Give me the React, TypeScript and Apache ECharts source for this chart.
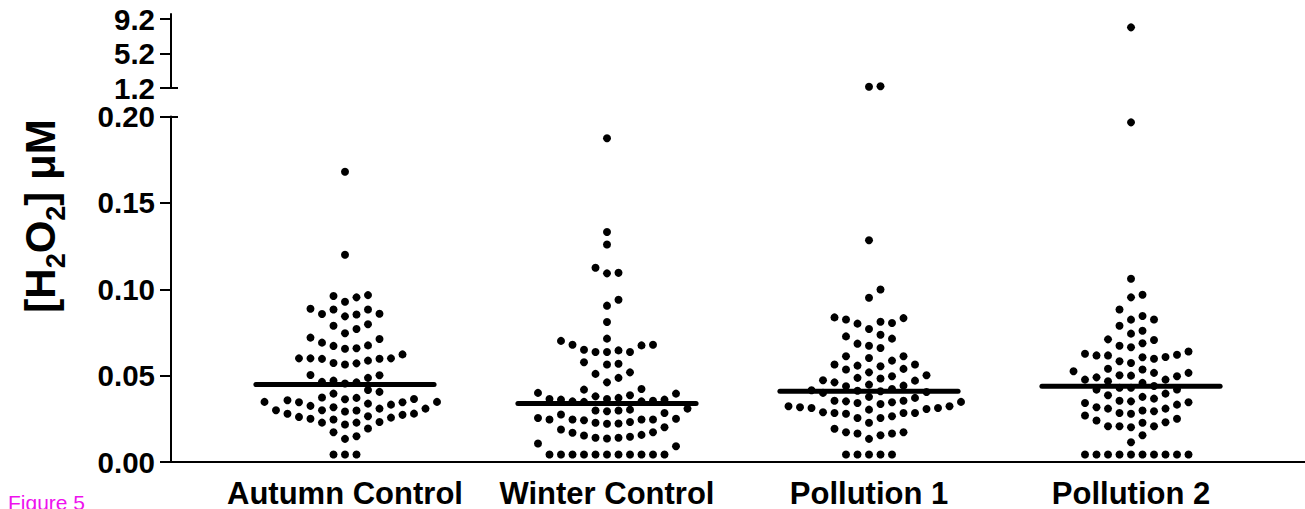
import React, { useEffect, useRef } from "react";
import * as echarts from "echarts";

// ---------------- data ----------------
const categories = ["Autumn Control", "Winter Control", "Pollution 1", "Pollution 2"];

const autumnControl = [
  0.168, 0.12,
  0.0966, 0.0953, 0.0928, 0.0961, 0.0883, 0.0883, 0.0887, 0.0854, 0.0858, 0.0843, 0.0857,
  0.0797, 0.077, 0.0789, 0.0712, 0.072, 0.0745, 0.0691, 0.0675, 0.0658, 0.0656, 0.0672,
  0.06, 0.06, 0.0597, 0.0573, 0.0564, 0.0571, 0.0587, 0.0598, 0.06, 0.0623,
  0.0502, 0.0487, 0.0504,
  0.0471, 0.0461, 0.0454, 0.0464,
  0.0406, 0.0417, 0.0396,
  0.0371, 0.0365, 0.0357, 0.0363, 0.0373,
  0.0348, 0.0348, 0.0338, 0.0325, 0.0309, 0.03, 0.03, 0.0292, 0.0298, 0.0309, 0.0317, 0.0332, 0.0346, 0.0346,
  0.0279, 0.0265, 0.0257, 0.025, 0.0228, 0.0217, 0.0228, 0.0232, 0.0246, 0.0261, 0.0273, 0.028,
  0.0194, 0.0172, 0.0149, 0.0134,
  0.0043, 0.0043, 0.0043,
];

const winterControl = [
  0.1874, 0.1331, 0.1259, 0.1095, 0.1092, 0.1124, 0.0905, 0.0939, 0.081, 0.0714,
  0.0679, 0.0675, 0.0679, 0.0701,
  0.0646, 0.0637, 0.0637, 0.0637, 0.065,
  0.0577, 0.0564, 0.0569,
  0.051, 0.0519, 0.0487, 0.0461,
  0.0423, 0.0419,
  0.04, 0.0386, 0.0365, 0.0361, 0.0355, 0.0351, 0.0348, 0.0351, 0.0361, 0.0365, 0.0371, 0.038, 0.0396,
  0.0303, 0.0298, 0.0284, 0.0275, 0.0294, 0.0298, 0.0309,
  0.025, 0.0246, 0.0246, 0.0232, 0.0227, 0.0201, 0.0221, 0.0223, 0.0242, 0.0246, 0.0246, 0.0255,
  0.0172, 0.0153, 0.014, 0.0136, 0.014, 0.0146, 0.0157, 0.0169, 0.0188,
  0.0107, 0.0091,
  0.0043, 0.0043, 0.0043, 0.0043, 0.0043, 0.0043, 0.0043, 0.0043, 0.0043, 0.0043, 0.0043,
];

const pollution1 = [
  1.4, 1.35,
  0.1284, 0.0999, 0.0951,
  0.0833, 0.0812, 0.0801, 0.0805, 0.0825, 0.0837, 0.077,
  0.0737, 0.0727, 0.0714, 0.0685, 0.066, 0.0673,
  0.0612, 0.0602, 0.0587, 0.0612,
  0.0564, 0.0558, 0.0539, 0.0519, 0.0535, 0.0554, 0.0564,
  0.0496, 0.0483, 0.0471, 0.0448, 0.0442, 0.0461, 0.0473, 0.0487, 0.0502,
  0.0423, 0.04, 0.0438, 0.041, 0.0412, 0.0405, 0.0415,
  0.0355, 0.0348, 0.0342, 0.0323, 0.0313, 0.0307, 0.0303, 0.0371, 0.0377, 0.0317, 0.0313, 0.0323, 0.0336, 0.0346, 0.0351, 0.0355,
  0.0284, 0.0284, 0.0255, 0.0288, 0.0255, 0.0265, 0.0279, 0.0284,
  0.0227,
  0.0172, 0.0165, 0.0155, 0.0165, 0.0172, 0.0192,
  0.0134,
  0.0043, 0.0043, 0.0043, 0.0043, 0.0043,
];

const pollution2 = [
  8.23, 0.1966,
  0.1061, 0.0953, 0.0968, 0.0883, 0.0825, 0.0824, 0.0845, 0.0789, 0.0743, 0.076, 0.0706, 0.071, 0.0673, 0.0664, 0.0687, 0.064,
  0.0621, 0.0617, 0.0606, 0.0583, 0.0573, 0.0598, 0.0608, 0.0617, 0.0627,
  0.0535, 0.0516, 0.0502, 0.0496, 0.0477, 0.049, 0.05, 0.0516, 0.0525, 0.054,
  0.0477, 0.0458, 0.0419, 0.0467, 0.044, 0.042, 0.043, 0.043,
  0.0386, 0.0367, 0.0351, 0.0342, 0.0346, 0.0355, 0.0377, 0.0396,
  0.0317, 0.0309, 0.0294, 0.0279, 0.0269, 0.0284, 0.0298, 0.0309, 0.0332,
  0.025, 0.0227, 0.0207, 0.0201, 0.0207, 0.0207, 0.023, 0.024,
  0.0155, 0.0114,
  0.0043, 0.0043, 0.0043, 0.0043, 0.0043, 0.0043, 0.0043, 0.0043, 0.0043, 0.0043,
];

const medians = [0.0448, 0.0338, 0.0409, 0.0438];

const lowerTicks = [0, 0.05, 0.1, 0.15, 0.2];
const upperTicks = [1.2, 5.2, 9.2];

// ---------------- layout ----------------
const W = 1305;
const H = 509;
const AXIS_X = 171;
const LOWER_TOP = 116.5;
const LOWER_BOTTOM = 462.5;
const UPPER_TOP = 14;
const UPPER_BOTTOM = 88;
const LOWER_MIN = 0;
const LOWER_MAX = 0.2;
const UPPER_MIN = 1.2;
const UPPER_MAX = 9.78;
const X_MIN = -0.664;
const X_MAX = 3.664;
const COL_PX = 11.5; // horizontal spacing of swarm columns
const GAP_PX = 12; // minimum vertical distance between dots in one column
const DOT = 8;
const MEDIAN_HALF = 0.34;
const FONT = "'Liberation Sans', Arial, Helvetica, sans-serif";

const LOWER_PX = (LOWER_BOTTOM - LOWER_TOP) / (LOWER_MAX - LOWER_MIN);
const UPPER_PX = (UPPER_BOTTOM - UPPER_TOP) / (UPPER_MAX - UPPER_MIN);
const COL_STEP = (COL_PX * (X_MAX - X_MIN)) / (W - AXIS_X);

function swarmColumns(values: number[], pxPerUnit: number): number[] {
  const order = values.map((_, i) => i).sort((a, b) => values[a] - values[b]);
  const placed = new Map<number, number[]>();
  const cols = new Array(values.length).fill(0);
  for (const i of order) {
    const y = values[i] * pxPerUnit;
    for (let k = 0; ; k++) {
      const c = k === 0 ? 0 : k % 2 === 1 ? (k + 1) / 2 : -k / 2;
      const list = placed.get(c) || [];
      if (list.every((py) => Math.abs(py - y) >= GAP_PX)) {
        list.push(y);
        placed.set(c, list);
        cols[i] = c;
        break;
      }
    }
  }
  return cols;
}

function buildPoints() {
  const groups = [autumnControl, winterControl, pollution1, pollution2];
  const lowerData: number[][] = [];
  const upperData: number[][] = [];
  groups.forEach((vals, g) => {
    const lower = vals.filter((v) => v <= LOWER_MAX);
    const upper = vals.filter((v) => v > LOWER_MAX);
    swarmColumns(lower, LOWER_PX).forEach((c, i) => lowerData.push([g + c * COL_STEP, lower[i]]));
    swarmColumns(upper, UPPER_PX).forEach((c, i) => upperData.push([g + c * COL_STEP, upper[i]]));
  });
  return { lowerData, upperData };
}

export default function App() {
  const ref = useRef<HTMLDivElement>(null);

  useEffect(() => {
    if (!ref.current) return;
    const chart = echarts.init(ref.current, null, { renderer: "svg" });
    const { lowerData, upperData } = buildPoints();

    const black = "#000";
    const axisLine = { show: true, onZero: false, lineStyle: { color: black, width: 2 } };
    const tickLabel = {
      color: black,
      fontSize: 29.5,
      fontWeight: "bold",
      fontFamily: FONT,
      margin: 16,
    };

    const option: any = {
      animation: false,
      backgroundColor: "#fff",
      grid: [
        { left: AXIS_X, right: 0, top: LOWER_TOP, height: LOWER_BOTTOM - LOWER_TOP, containLabel: false },
        { left: AXIS_X, right: 0, top: UPPER_TOP, height: UPPER_BOTTOM - UPPER_TOP, containLabel: false },
      ],
      xAxis: [
        {
          gridIndex: 0,
          type: "value",
          min: X_MIN,
          max: X_MAX,
          axisLine,
          axisTick: { show: false },
          splitLine: { show: false },
          axisLabel: {
            customValues: [0, 1, 2, 3],
            formatter: (v: number) => categories[Math.round(v)] ?? "",
            color: black,
            fontSize: 31,
            fontWeight: "bold",
            fontFamily: FONT,
            margin: 16,
          },
        },
        {
          gridIndex: 1,
          type: "value",
          min: X_MIN,
          max: X_MAX,
          show: false,
        },
      ],
      yAxis: [
        {
          gridIndex: 0,
          type: "value",
          min: LOWER_MIN,
          max: LOWER_MAX,
          interval: 0.05,
          axisLine,
          axisTick: { show: true, length: 11, lineStyle: { color: black, width: 2 }, customValues: lowerTicks },
          splitLine: { show: false },
          axisLabel: { ...tickLabel, customValues: lowerTicks, formatter: (v: number) => v.toFixed(2) },
        },
        {
          gridIndex: 0,
          type: "value",
          min: LOWER_MIN,
          max: LOWER_MAX,
          position: "left",
          axisLine: { show: false, onZero: false },
          axisTick: { show: true, inside: true, length: 7, lineStyle: { color: black, width: 2 }, customValues: [LOWER_MAX] },
          axisLabel: { show: false },
          splitLine: { show: false },
        },
        {
          gridIndex: 1,
          type: "value",
          min: UPPER_MIN,
          max: UPPER_MAX,
          axisLine,
          axisTick: { show: true, length: 11, lineStyle: { color: black, width: 2 }, customValues: upperTicks },
          splitLine: { show: false },
          axisLabel: { ...tickLabel, customValues: upperTicks, formatter: (v: number) => v.toFixed(1) },
        },
        {
          gridIndex: 1,
          type: "value",
          min: UPPER_MIN,
          max: UPPER_MAX,
          position: "left",
          axisLine: { show: false, onZero: false },
          axisTick: { show: true, inside: true, length: 7, lineStyle: { color: black, width: 2 }, customValues: [UPPER_MIN] },
          axisLabel: { show: false },
          splitLine: { show: false },
        },
      ],
      series: [
        {
          type: "scatter",
          xAxisIndex: 0,
          yAxisIndex: 0,
          data: lowerData,
          symbol: "circle",
          symbolSize: DOT,
          itemStyle: { color: black, opacity: 1 },
          clip: false,
          silent: true,
          z: 2,
        },
        {
          type: "scatter",
          xAxisIndex: 1,
          yAxisIndex: 2,
          data: upperData,
          symbol: "circle",
          symbolSize: DOT,
          itemStyle: { color: black, opacity: 1 },
          clip: false,
          silent: true,
          z: 2,
        },
        ...medians.map((m, g) => ({
          type: "line",
          xAxisIndex: 0,
          yAxisIndex: 0,
          data: [
            [g - MEDIAN_HALF, m],
            [g + MEDIAN_HALF, m],
          ],
          symbol: "none",
          silent: true,
          lineStyle: { color: black, width: 5, cap: "round" },
          z: 5,
        })),
      ],
      graphic: [
        {
          type: "text",
          x: 40,
          y: 216,
          rotation: Math.PI / 2,
          style: {
            text: "{a|[H}{s|2}{a|O}{s|2}{a|] μM}",
            align: "center",
            verticalAlign: "middle",
            textAlign: "center",
            textVerticalAlign: "middle",
            fill: black,
            rich: {
              a: { fontSize: 42, fontWeight: "bold", fontFamily: FONT, lineHeight: 58, verticalAlign: "middle", fill: black, color: black },
              s: { fontSize: 27, fontWeight: "bold", fontFamily: FONT, lineHeight: 27, verticalAlign: "bottom", fill: black, color: black },
            },
          },
        },
        {
          type: "text",
          x: 8,
          y: 492,
          style: {
            text: "Figure 5",
            fontSize: 21,
            fontFamily: FONT,
            fill: "#ee11ee",
            verticalAlign: "top",
            textVerticalAlign: "top",
          },
        },
      ],
    };

    chart.setOption(option);
    return () => chart.dispose();
  }, []);

  return (
    <div
      ref={ref}
      style={{ position: "absolute", left: 0, top: 0, width: W, height: H, background: "#fff" }}
    />
  );
}
